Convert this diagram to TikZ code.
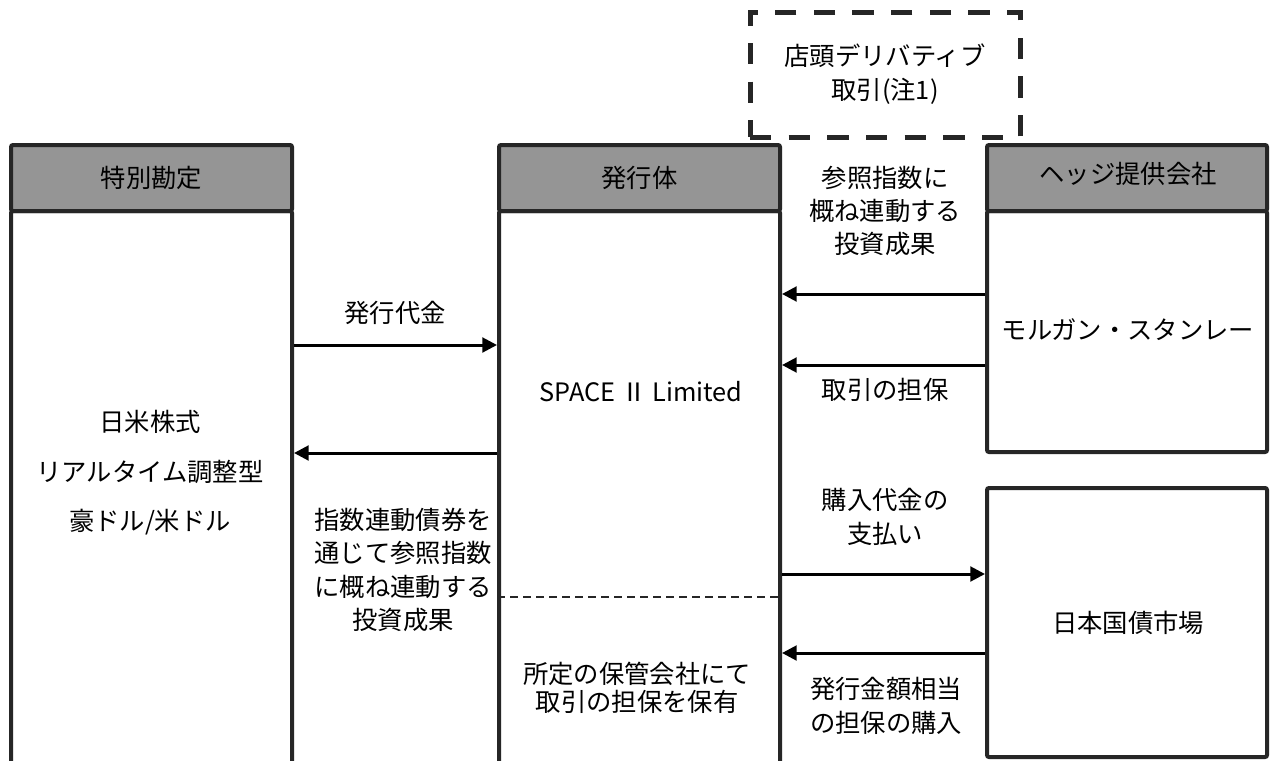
\documentclass[tikz,border=0pt]{standalone}
\usepackage{fontspec}
\setmainfont{Noto Sans CJK JP}
\usetikzlibrary{arrows.meta,fit}
\definecolor{boxc}{HTML}{262626}
\definecolor{headc}{HTML}{959595}
\begin{document}
\begin{tikzpicture}[x=0.75pt,y=-0.75pt,
  font=\fontsize{19pt}{25pt}\selectfont,
  frame/.style={draw=boxc, line width=3pt, inner sep=0pt, rounded corners=1.5pt},
  head/.style={frame, fill=headc},
  arr/.style={line width=2.25pt, draw=black, -{Triangle[length=11pt,width=11pt]}},
  lbl/.style={align=center, inner sep=0pt}]
\useasboundingbox (0,0) rectangle (1273,760);
\fill[white] (0,0) rectangle (1273,760);

% dashed OTC box
\node[frame, rounded corners=0pt, line width=3.75pt, dash pattern=on 16pt off 13pt,
      fit={(750,12) (1020,137)}] (otc) {};
\node[lbl] (otct) at (885,74) {店頭デリバティブ\\取引(注1)};

% left column
\node[frame, fit={(11,211) (292,775)}] (lb) {};
\node[head, fit={(11,145) (292,211)}] (lh) {};
\node[lbl] (lht) at (lh.center) {特別勘定};
% middle column
\node[frame, fit={(499,211) (780,775)}] (mb) {};
\node[head, fit={(499,145) (780,211)}] (mh) {};
\node[lbl] (mht) at (mh.center) {発行体};
% hedge provider
\node[frame, fit={(987,211) (1267,452)}] (rb) {};
\node[lbl] (rbt) at (1128,330) {モルガン・スタンレー};
\node[head, fit={(987,145) (1267,211)}] (rh) {};
\node[lbl] (rht) at (1128,174) {ヘッジ提供会社};
% JGB market
\node[frame, fit={(987,488) (1267,757)}] (jgb) {};
\node[lbl] (jgbt) at (1128,623) {日本国債市場};

% texts
\node[lbl] (l1) at (150,422) {日米株式};
\node[lbl] (l2) at (150,472) {リアルタイム調整型};
\node[lbl] (l3) at (150,522) {豪ドル/米ドル};
\node[lbl] (pay) at (395,313) {発行代金};
\node[lbl] (ret) at (403,570) {指数連動債券を\\通じて参照指数\\に概ね連動する\\投資成果};
\node[lbl] (spv) at (641,392) {SPACE Ⅱ Limited};
\node[lbl, font=\fontsize{19pt}{21pt}\selectfont] (cust) at (637,688) {所定の保管会社にて\\取引の担保を保有};
\node[lbl] (perf) at (885,211) {参照指数に\\概ね連動する\\投資成果};
\node[lbl] (coll) at (885,390) {取引の担保};
\node[lbl] (buy) at (885,517) {購入代金の\\支払い};
\node[lbl] (bcol) at (886,706) {発行金額相当\\の担保の購入};

% connectors
\draw[arr] (rb.west |- 0,294) -- (mb.east |- 0,294);
\draw[arr] (rb.west |- 0,365) -- (mb.east |- 0,365);
\draw[arr] (lb.east |- 0,345) -- (mb.west |- 0,345);
\draw[arr] (mb.west |- 0,453) -- (lb.east |- 0,453);
\draw[arr] (mb.east |- 0,574) -- (jgb.west |- 0,574);
\draw[arr] (jgb.west |- 0,653) -- (mb.east |- 0,653);
\draw[draw=boxc, line width=1.1pt, dash pattern=on 6pt off 3.75pt] (mb.west |- 0,597) -- (mb.east |- 0,597);
\end{tikzpicture}
\end{document}
